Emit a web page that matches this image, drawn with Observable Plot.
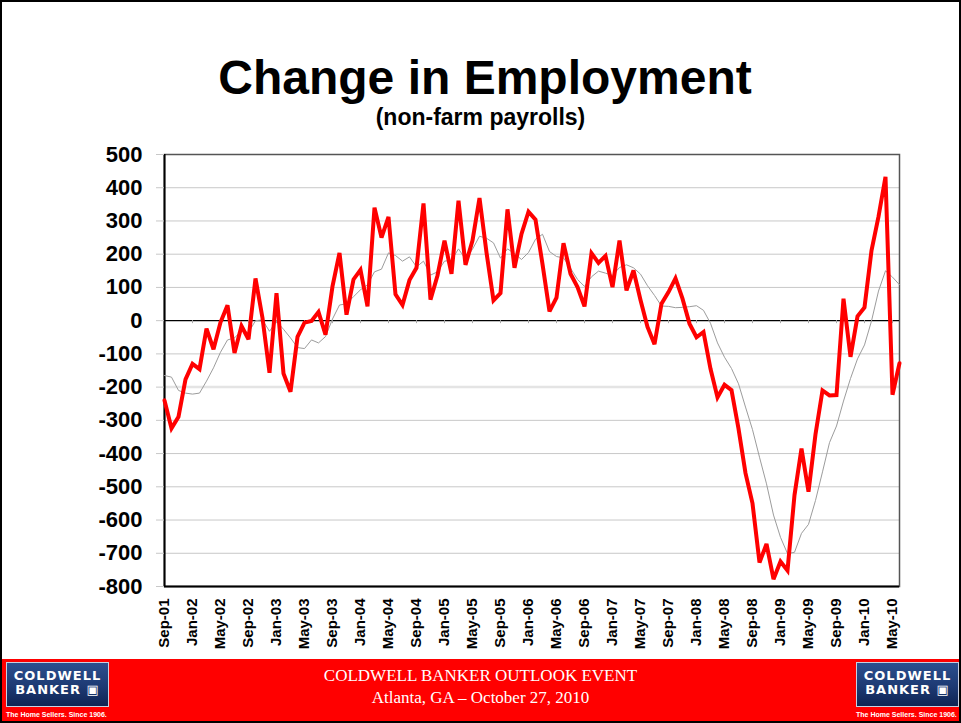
<!DOCTYPE html>
<html><head><meta charset="utf-8">
<script src="https://cdn.jsdelivr.net/npm/d3@7"></script>
<script src="https://cdn.jsdelivr.net/npm/@observablehq/plot@0.6"></script>
<style>
body{margin:0;background:#fff;}
#slide{position:relative;width:961px;height:723px;overflow:hidden;background:#fff;font-family:"Liberation Sans",Arial,sans-serif;}
#frame{position:absolute;left:0;top:0;width:957px;height:719px;border:2px solid #000;pointer-events:none;z-index:5;}
#title{position:absolute;left:0;top:52px;width:970px;text-align:center;font-weight:bold;font-size:48px;line-height:52px;color:#000;}
#subtitle{position:absolute;left:0;top:104px;width:961px;text-align:center;font-weight:bold;font-size:23px;line-height:26px;color:#000;}
#chart{position:absolute;left:0;top:140px;}
#footer{position:absolute;left:0;top:659px;width:961px;height:64px;background:#ff0000;}
.logo{position:absolute;top:3px;width:103px;height:45px;box-sizing:border-box;border:1px solid #c8d0e0;
  background:linear-gradient(180deg,#2c4f8e 0%,#1d3a73 55%,#0f2453 100%);color:#fff;font-weight:bold;
  font-family:"DejaVu Sans",sans-serif;text-align:center;}
.logo .l1{position:absolute;left:0;right:0;top:6px;font-size:13px;letter-spacing:1px;line-height:13px;}
.logo .l2{position:absolute;left:0;right:0;top:20px;font-size:13px;letter-spacing:1px;line-height:13px;}
.tag{position:absolute;top:52px;font-size:7px;color:#fff;font-weight:bold;white-space:nowrap;}
#ev{position:absolute;left:0;width:961px;text-align:center;top:6px;color:#fff;font-family:"Liberation Serif","Times New Roman",serif;font-size:17px;line-height:22px;}
</style></head>
<body>
<div id="slide">
  <div id="title">Change in Employment</div>
  <div id="subtitle">(non-farm payrolls)</div>
  <div id="chart"></div>
  <div id="footer">
    <div class="logo" style="left:6px;"><div class="l1">COLDWELL</div><div class="l2">BANKER ▣</div></div>
    <div class="tag" style="left:6px;">The Home Sellers. Since 1906.</div>
    <div id="ev">COLDWELL BANKER OUTLOOK EVENT<br>Atlanta, GA – October 27, 2010</div>
    <div class="logo" style="left:856px;"><div class="l1">COLDWELL</div><div class="l2">BANKER ▣</div></div>
    <div class="tag" style="left:856px;">The Home Sellers. Since 1906.</div>
  </div>
  <div id="frame"></div>
</div>
<script>
// monthly change in non-farm payrolls (thousands), Sep-01 .. Jun-10
const change = [
 -240,-324,-289,-177,
 -130,-146,-24,-86,-5,46,-97,-16,-56,127,8,-157,
 83,-159,-214,-49,-6,-1,26,-42,103,204,18,124,
 153,43,340,250,312,79,47,122,159,353,63,136,
 241,141,361,168,241,369,205,61,83,335,159,261,
 328,304,170,28,69,233,141,101,43,203,174,195,
 101,241,91,151,62,-19,-71,51,86,127,66,-9,
 -50,-34,-145,-231,-193,-209,-325,-459,-550,-728,-672,-778,
 -725,-752,-525,-385,-515,-342,-210,-225,-224,66,-109,13,
 40,211,313,433,-223,-128
];
// 6-month average (thin grey line)
const avg6 = [
 -165,-170,-210,-218,
 -221,-218,-182,-142,-95,-58,-52,-30,-36,0,2,-32,
 -2,-26,-52,-81,-84,-58,-67,-48,5,47,51,72,
 93,108,147,155,204,196,179,192,162,179,137,147,
 179,182,216,185,215,254,248,234,188,216,202,184,
 205,245,260,208,193,189,158,124,103,132,149,143,
 136,160,168,159,140,105,76,44,43,39,40,42,
 45,31,-8,-67,-110,-144,-190,-260,-328,-411,-491,-585,
 -652,-701,-697,-640,-613,-541,-455,-367,-317,-242,-174,-115,
 -73,-1,89,150,131,108
];
const xTickIndex = [0,4,8,12,16,20,24,28,32,36,40,44,48,52,56,60,64,68,72,76,80,84,88,92,96,100,104];
const xTickLabels = ["Sep-01","Jan-02","May-02","Sep-02","Jan-03","May-03","Sep-03","Jan-04","May-04","Sep-04","Jan-05","May-05","Sep-05","Jan-06","May-06","Sep-06","Jan-07","May-07","Sep-07","Jan-08","May-08","Sep-08","Jan-09","May-09","Sep-09","Jan-10","May-10"];
const yTicks = [500,400,300,200,100,0,-100,-200,-300,-400,-500,-600,-700,-800];

const data = change.map((v, i) => ({i, v, a: avg6[i]}));
const gridVals = yTicks.filter(t => t !== 0 && t !== 500 && t !== -800 && t !== -200);

const chart = Plot.plot({
  width: 961, height: 515,
  marginLeft: 164, marginRight: 62, marginTop: 14, marginBottom: 69,
  style: {fontFamily: "'Liberation Sans', Arial, sans-serif", background: "transparent", overflow: "visible"},
  x: {domain: [0, 105], label: null},
  y: {domain: [-800, 500], label: null},
  marks: [
    Plot.gridY(gridVals, {stroke: "#c8c8c8", strokeOpacity: 1, strokeWidth: 1}),
    Plot.gridY([-200], {stroke: "#e4e4e4", strokeOpacity: 1, strokeWidth: 2.5}),
    Plot.frame({stroke: "#555", strokeWidth: 1.5}),
    Plot.ruleY([0], {stroke: "#000", strokeWidth: 1.2}),
    Plot.ruleX(xTickIndex.slice(1), {y1: 0, y2: -9, stroke: "#aaa", strokeWidth: 1}),
    Plot.ruleX([0], {stroke: "#000", strokeWidth: 2}),
    Plot.ruleY([-800], {stroke: "#000", strokeWidth: 2}),
    Plot.axisY(yTicks, {label: null, tickSize: 8, tickPadding: 14, stroke: "#c8c8c8", fill: "#000", fontSize: 22, fontWeight: "bold", tickFormat: d => String(d)}),
    Plot.axisX(xTickIndex, {label: null, tickRotate: -90, tickSize: 0, tickPadding: 12, fontSize: 15, fontWeight: "bold", fill: "#000",
      tickFormat: d => xTickLabels[xTickIndex.indexOf(d)]}),
    Plot.lineY(data, {x: "i", y: "a", stroke: "#9c9c9c", strokeWidth: 1}),
    Plot.lineY(data, {x: "i", y: "v", stroke: "#ff0000", strokeWidth: 4, strokeLinejoin: "miter", strokeMiterlimit: 3})
  ]
});
document.getElementById("chart").appendChild(chart);
</script>
</body></html>
